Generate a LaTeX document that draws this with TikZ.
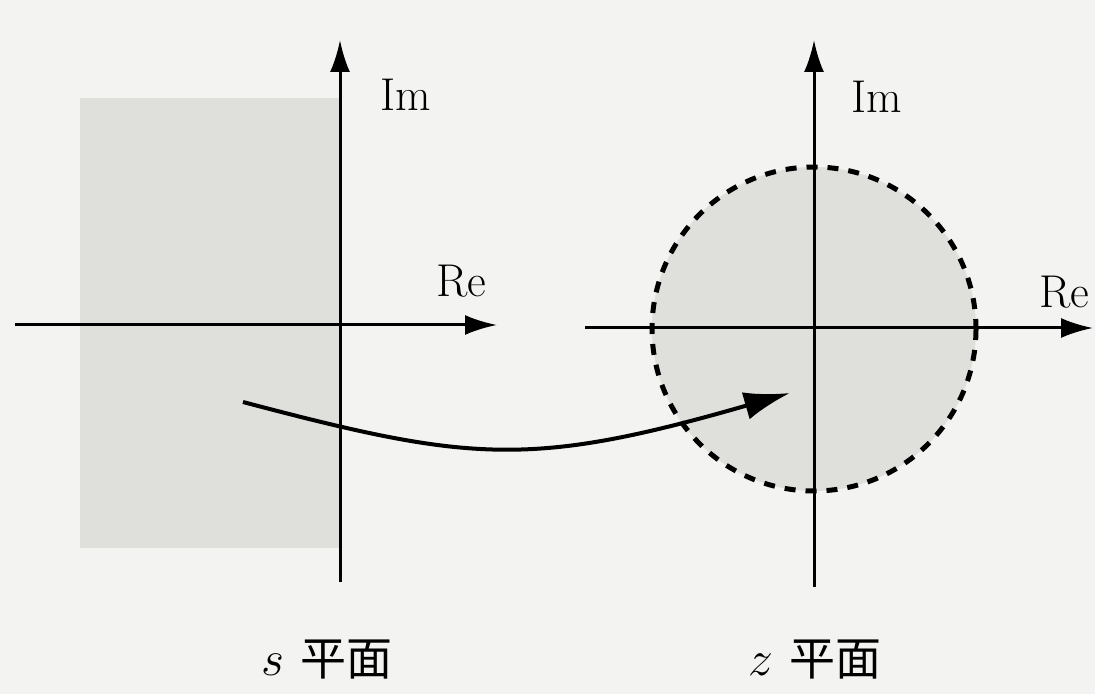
\documentclass[tikz,border=0pt]{standalone}
\usepackage{fontspec}
\newfontfamily\cjk{Noto Sans CJK SC}
\usetikzlibrary{arrows.meta}
\definecolor{bgc}{RGB}{243,243,241}
\definecolor{regionfill}{RGB}{223,223,219}
\tikzset{
  axis/.style={line width=1.5pt,-{Latex[length=16pt,width=10pt]}},
  map/.style={line width=2pt,-{Latex[length=23pt,width=14pt]}},
  unitcircle/.style={line width=2.5pt,dash pattern=on 5.5pt off 5pt,fill=regionfill},
  lbl/.style={inner sep=0pt,font=\fontsize{23}{27}\selectfont},
}
\begin{document}
\begin{tikzpicture}[x=0.5pt,y=-0.5pt]
\fill[bgc] (0,0) rectangle (1095,694);
\useasboundingbox (0,0) rectangle (1095,694);
% s plane
\fill[regionfill] (80,98) rectangle (340,548);
\coordinate (sL) at (15,325);
\coordinate (sR) at (497,325);
\coordinate (sB) at (340,582);
\coordinate (sT) at (340,40);
\draw[axis] (sL) -- (sR);
\draw[axis] (sB) -- (sT);
\node[lbl] (sIm) at (406,95) {Im};
\node[lbl] (sRe) at (461,281) {Re};
\node[lbl] (slabel) at (327,660) {$s$\hspace{0.35em}{\cjk 平面}};
% z plane
\coordinate (zO) at (814,329);
\draw[unitcircle] (zO) circle[radius=162];
\coordinate (zL) at (585,328);
\coordinate (zR) at (1093,328);
\coordinate (zB) at (814,587);
\coordinate (zT) at (814,40);
\draw[axis] (zL) -- (zR);
\draw[axis] (zB) -- (zT);
\node[lbl] (zIm) at (877,97) {Im};
\node[lbl] (zRe) at (1064,292) {Re};
\node[lbl] (zlabel) at (815,660) {$z$\hspace{0.35em}{\cjk 平面}};
% mapping arrow
\coordinate (mS) at (243,402);
\coordinate (mE) at (790,393);
\draw[map] (mS) .. controls (470,462) and (530,468) .. (mE);
\end{tikzpicture}
\end{document}
